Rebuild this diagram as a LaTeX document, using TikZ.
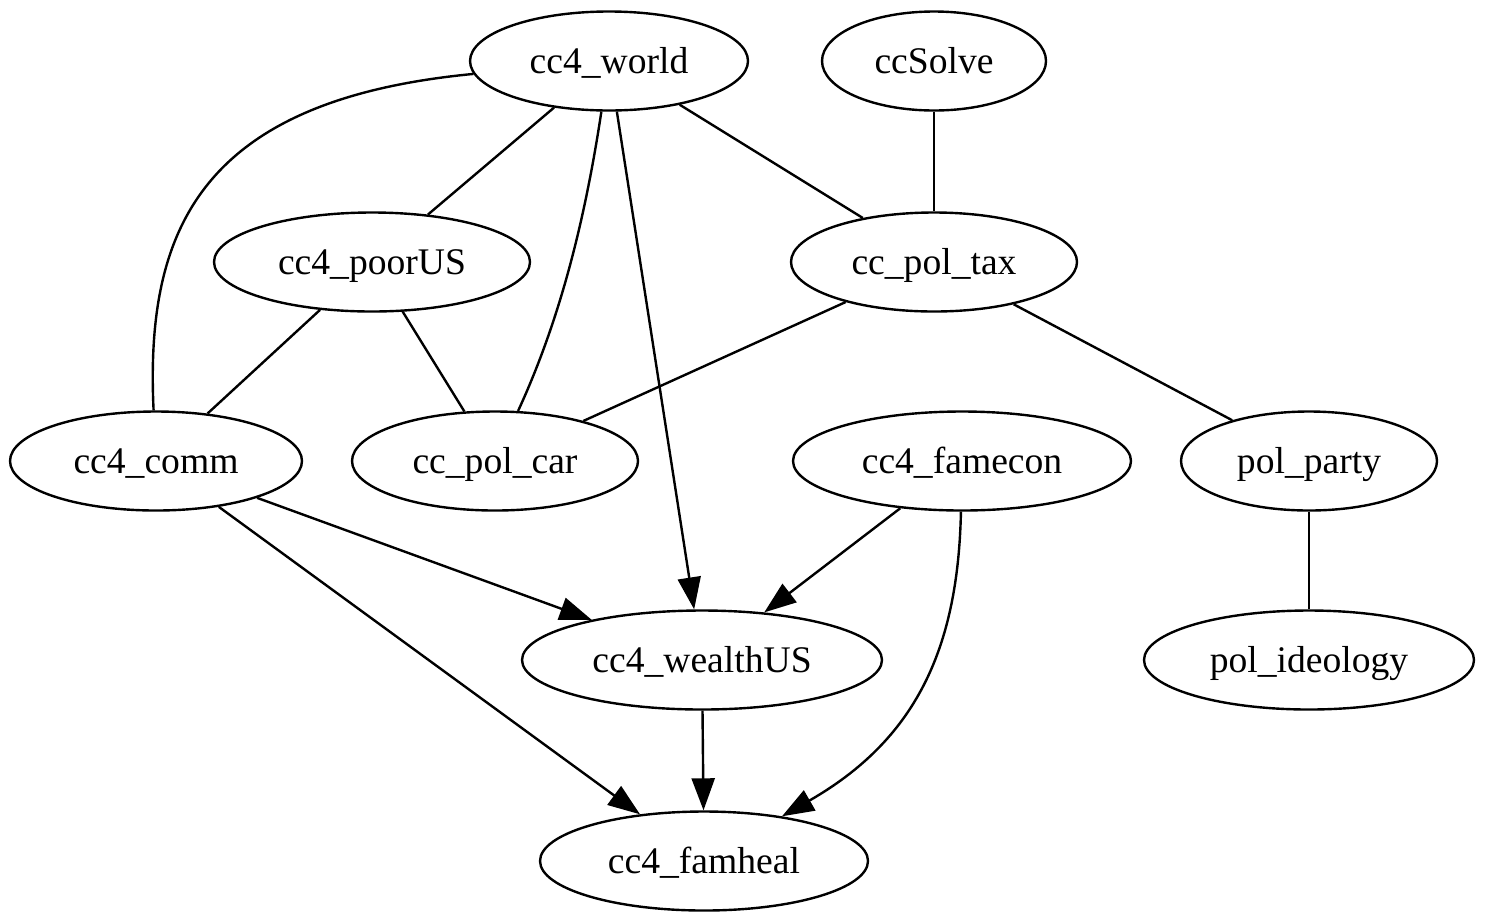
\documentclass[tikz,border=0pt]{standalone}
\usepackage{fontspec}
\setmainfont{Liberation Serif}
\usepackage{tikz}
\usetikzlibrary{arrows.meta,shapes.geometric}

\tikzset{
	var/.style={draw,ellipse,line width=1.2pt,inner sep=0pt,minimum height=49.5pt,text height=12pt,text depth=0pt,font=\fontsize{18.8}{22}\selectfont},
	edge/.style={line width=1.2pt},
	arr/.style={line width=1.2pt,-{Triangle[length=16pt,width=11.5pt]}}
}

\begin{document}
\begin{tikzpicture}[x=0.5pt,y=-0.5pt]

	\useasboundingbox (0,0) rectangle (1486,922);

	% top row
	\node[var,minimum width=139pt] (world) at (609,61){cc4\_world};
	\node[var,minimum width=112pt] (solve) at (934,61){ccSolve};
	% second row
	\node[var,minimum width=158pt] (poor) at (372,262){cc4\_poorUS};
	\node[var,minimum width=143pt] (tax) at (934,262){cc\_pol\_tax};
	% third row
	\node[var,minimum width=146pt] (comm) at (156,461){cc4\_comm};
	\node[var,minimum width=143pt] (car) at (495,461){cc\_pol\_car};
	\node[var,minimum width=169pt] (famecon) at (962,461){cc4\_famecon};
	\node[var,minimum width=128pt] (party) at (1309,461){pol\_party};
	% fourth row
	\node[var,minimum width=180pt] (wealth) at (702,660){cc4\_wealthUS};
	\node[var,minimum width=165pt] (ideo) at (1309,660){pol\_ideology};
	% bottom
	\node[var,minimum width=164pt] (famheal) at (704,861){cc4\_famheal};

	% undirected links
	\draw[edge](world) .. controls (200,100) and (145,230) .. (comm);
	\draw[edge](world)--(poor);
	\draw[edge](world) .. controls (585,220) and (560,320) .. (car);
	\draw[edge](world)--(tax);
	\draw[edge](solve)--(tax);
	\draw[edge](poor)--(comm);
	\draw[edge](poor)--(car);
	\draw[edge](tax)--(car);
	\draw[edge](tax)--(party);
	\draw[edge](party)--(ideo);

	% directed links
	\draw[arr](world)--(wealth);
	\draw[arr](comm)--(wealth);
	\draw[arr](comm)--(famheal);
	\draw[arr](famecon)--(wealth);
	\draw[arr](famecon) .. controls (958,650) and (915,740) .. (famheal);
	\draw[arr](wealth)--(famheal);

\end{tikzpicture}
\end{document}
